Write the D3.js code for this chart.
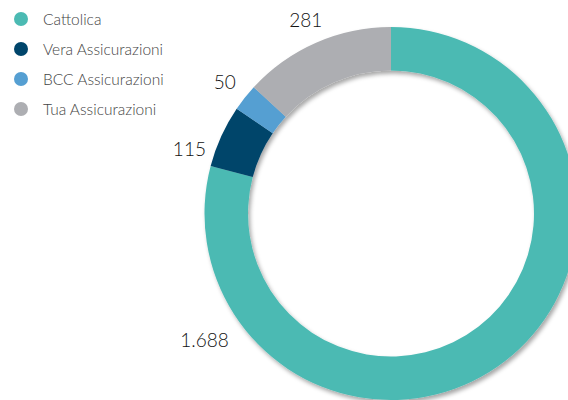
<!DOCTYPE html>
<html>
<head>
<meta charset="utf-8">
<script src="https://cdn.jsdelivr.net/npm/d3@7"></script>
<style>
  body { margin: 0; background: #fff; }
  svg { display: block; }
</style>
</head>
<body>
<svg id="mainSVG" width="568" height="400"></svg>
<script>
var categories = ["Cattolica", "Vera Assicurazioni", "BCC Assicurazioni", "Tua Assicurazioni"];
var values = [1688, 115, 50, 281];
var valueLabels = ["1.688", "115", "50", "281"];
var colors = ["#4bbab3", "#00456b", "#559fd2", "#adaeb2"];

var mainSVG = d3.select("#mainSVG");
var font = "Lato, 'Open Sans', sans-serif";

// ombra esterna dell'anello
var defs = mainSVG.append("defs");
var filter = defs.append("filter").attr("id", "shadow")
  .attr("x", "-10%").attr("y", "-10%").attr("width", "130%").attr("height", "130%");
filter.append("feDropShadow")
  .attr("dx", 2).attr("dy", 3).attr("stdDeviation", 2.2)
  .attr("flood-color", "#000").attr("flood-opacity", 0.35);

var cx = 391, cy = 213.5;
var outerR = 186.5, innerR = 143;

var data = categories.map(function (c, i) {
  return { nome: c, valore: values[i], etichetta: valueLabels[i], colore: colors[i] };
});

var pie = d3.pie().sort(null).value(function (d) { return d.valore; });
var arc = d3.arc().innerRadius(innerR).outerRadius(outerR);
var arcs = pie(data);

var g = mainSVG.append("g").attr("transform", "translate(" + cx + "," + cy + ")");

var ring = g.append("g").attr("filter", "url(#shadow)");
ring.selectAll("path")
  .data(arcs)
  .enter().append("path")
  .attr("d", arc)
  .attr("fill", function (d) { return d.data.colore; });

// posizione etichette: angolo medio, con qualche aggiustamento a mano
var labelAngle = { "Cattolica": 236 * Math.PI / 180, "Vera Assicurazioni": 288 * Math.PI / 180 };
var labelR = { "Cattolica": 225 };
function labelPos(d) {
  var a = labelAngle[d.data.nome] !== undefined ? labelAngle[d.data.nome] : (d.startAngle + d.endAngle) / 2;
  var r = labelR[d.data.nome] || 212;
  return [r * Math.sin(a), -r * Math.cos(a)];
}
g.selectAll("text.val")
  .data(arcs)
  .enter().append("text")
  .attr("class", "val")
  .attr("x", function (d) { return labelPos(d)[0]; })
  .attr("y", function (d) { return labelPos(d)[1]; })
  .attr("text-anchor", "middle")
  .attr("dominant-baseline", "central")
  .attr("font-family", font)
  .style("font-size", "19px")
  .style("font-weight", 300)
  .style("fill", "#111")
  .text(function (d) { return d.data.etichetta; });

// legenda
var legendY = d3.scalePoint().domain(categories).range([19, 109]);
var legend = mainSVG.append("g");
var items = legend.selectAll("g")
  .data(data)
  .enter().append("g")
  .attr("transform", function (d) { return "translate(0," + legendY(d.nome) + ")"; });
items.append("circle")
  .attr("cx", 21).attr("cy", 0).attr("r", 7)
  .attr("fill", function (d) { return d.colore; });
items.append("text")
  .attr("x", 43).attr("y", 0)
  .attr("dominant-baseline", "central")
  .attr("font-family", font)
  .style("font-size", "15.5px")
  .style("font-weight", 300)
  .style("fill", "#444")
  .text(function (d) { return d.nome; });
</script>
</body>
</html>
